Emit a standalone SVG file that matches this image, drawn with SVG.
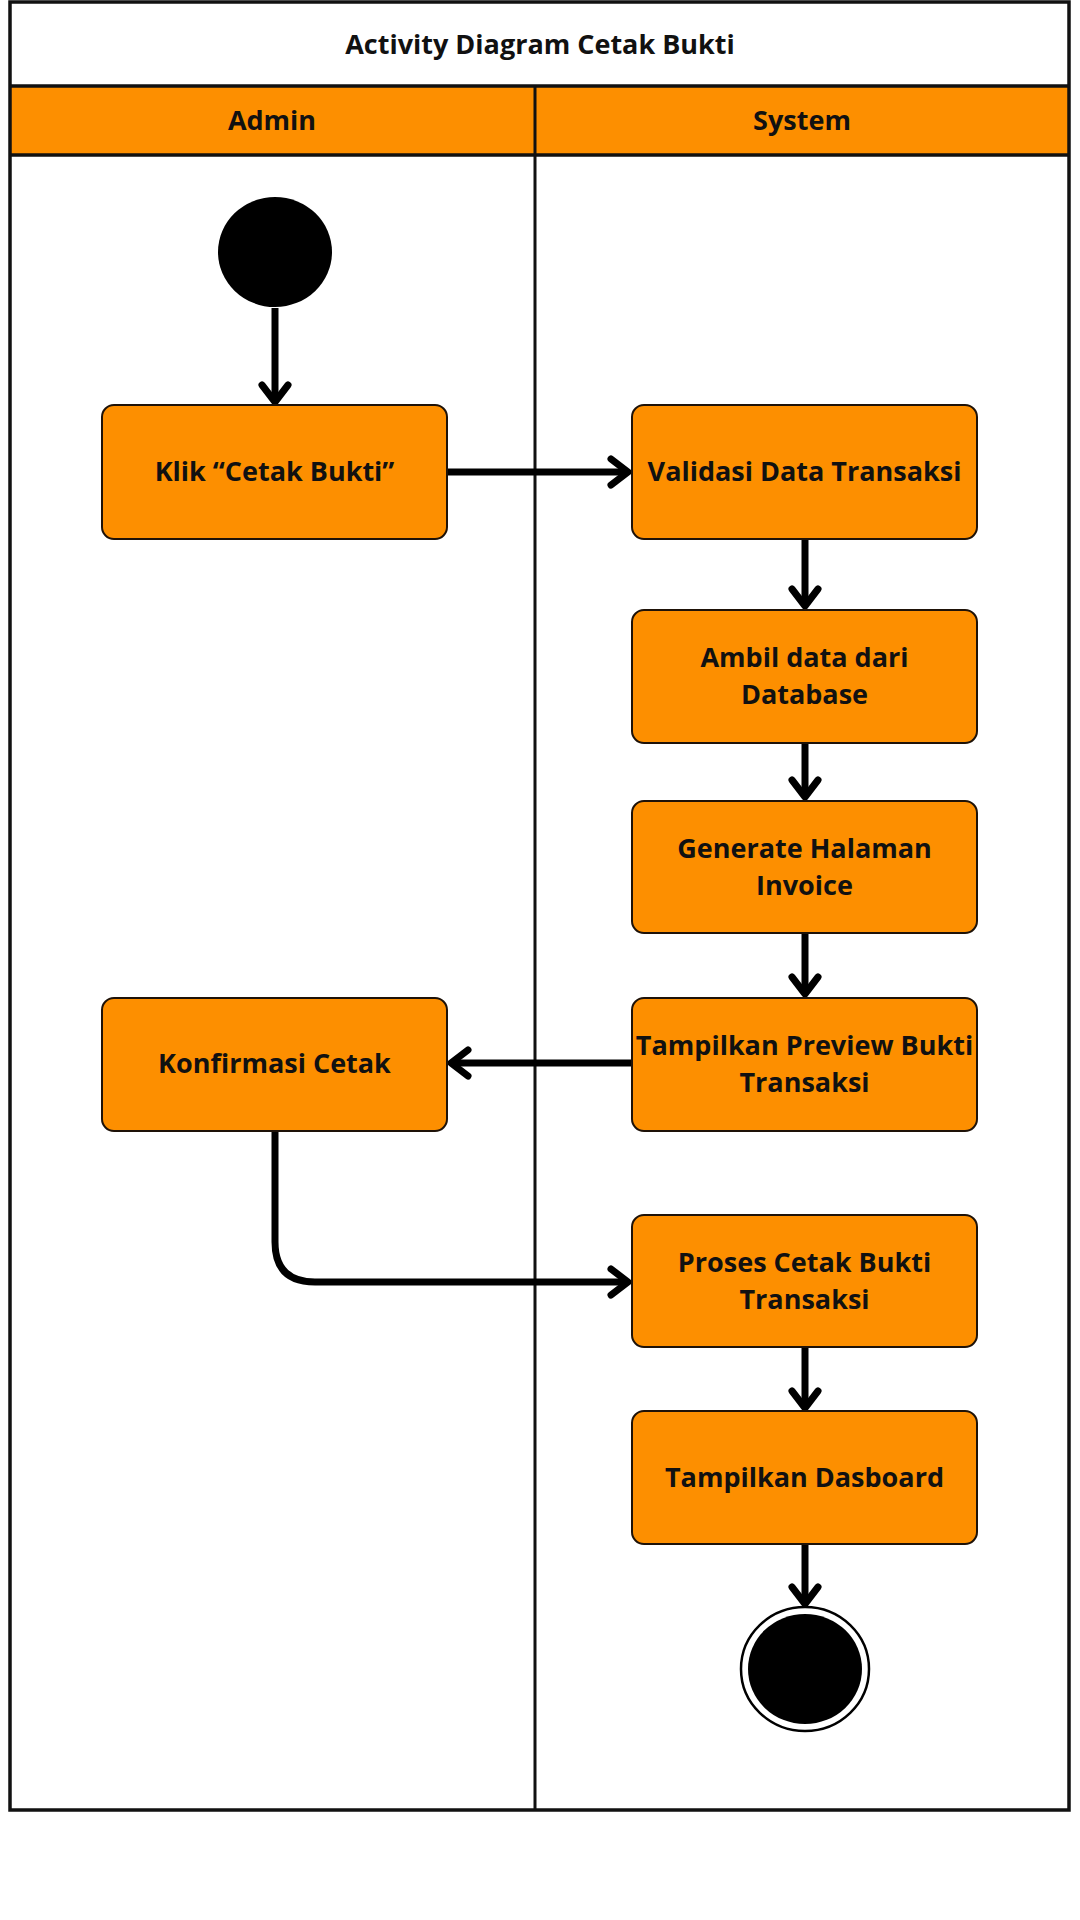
<svg xmlns="http://www.w3.org/2000/svg" width="1080" height="1920" viewBox="0 0 1080 1920">
<style>
.t{font-family:"Open Sans","Noto Sans","Liberation Sans",sans-serif;font-weight:700;fill:#111;text-anchor:middle}
.b{font-size:27px}
.box{fill:#FD8F00;stroke:#1e1208;stroke-width:2}
.frame{fill:none;stroke:#111;stroke-width:3.5}
.conn{fill:none;stroke:#000;stroke-width:7;stroke-linejoin:round}
</style>
<defs>
<marker id="arr" markerUnits="userSpaceOnUse" markerWidth="40" markerHeight="40" viewBox="-25 -20 40 40" refX="0" refY="0" orient="auto" overflow="visible">
<path d="M-17,-13 L0,0 L-17,13" fill="none" stroke="#000" stroke-width="7" stroke-linecap="round" stroke-linejoin="round"/>
</marker>
</defs>
<rect width="1080" height="1920" fill="#fff"/>
<g id="swimlanes">
<rect x="10" y="86" width="1059" height="69" fill="#FD8F00"/>
<rect class="frame" x="10" y="2" width="1059" height="1808"/>
<line x1="10" y1="86" x2="1069" y2="86" stroke="#111" stroke-width="3.5"/>
<line x1="10" y1="155" x2="1069" y2="155" stroke="#111" stroke-width="3.5"/>
<line x1="535" y1="86" x2="535" y2="1810" stroke="#111" stroke-width="3"/>
<text class="t" x="540" y="54" font-size="27">Activity Diagram Cetak Bukti</text>
<text class="t" x="272" y="130" font-size="27">Admin</text>
<text class="t" x="802" y="130" font-size="27">System</text>
</g>
<g id="connectors">
<path class="conn" d="M275,308 L275,402" marker-end="url(#arr)"/>
<path class="conn" d="M448,472 L628,472" marker-end="url(#arr)"/>
<path class="conn" d="M805,539 L805,606" marker-end="url(#arr)"/>
<path class="conn" d="M805,743 L805,797" marker-end="url(#arr)"/>
<path class="conn" d="M805,933 L805,994" marker-end="url(#arr)"/>
<path class="conn" d="M632,1063 L451,1063" marker-end="url(#arr)"/>
<path class="conn" d="M275,1131 L275,1242 Q275,1282 315,1282 L628,1282" marker-end="url(#arr)"/>
<path class="conn" d="M805,1347 L805,1408" marker-end="url(#arr)"/>
<path class="conn" d="M805,1544 L805,1604" marker-end="url(#arr)"/>
</g>
<g id="start">
<ellipse cx="275" cy="252" rx="57" ry="55" fill="#000"/>
</g>
<g id="klik">
<rect class="box" x="102" y="405" width="345" height="134" rx="12"/>
<text class="t b" x="274.5" y="481">Klik “Cetak Bukti”</text>
</g>
<g id="validasi">
<rect class="box" x="632" y="405" width="345" height="134" rx="12"/>
<text class="t b" x="804.5" y="481">Validasi Data Transaksi</text>
</g>
<g id="ambil">
<rect class="box" x="632" y="610" width="345" height="133" rx="12"/>
<text class="t b" x="804.5" y="667">Ambil data dari</text>
<text class="t b" x="804.5" y="704">Database</text>
</g>
<g id="generate">
<rect class="box" x="632" y="801" width="345" height="132" rx="12"/>
<text class="t b" x="804.5" y="858">Generate Halaman</text>
<text class="t b" x="804.5" y="895">Invoice</text>
</g>
<g id="preview">
<rect class="box" x="632" y="998" width="345" height="133" rx="12"/>
<text class="t b" x="804.5" y="1055">Tampilkan Preview Bukti</text>
<text class="t b" x="804.5" y="1092">Transaksi</text>
</g>
<g id="konfirmasi">
<rect class="box" x="102" y="998" width="345" height="133" rx="12"/>
<text class="t b" x="274.5" y="1073">Konfirmasi Cetak</text>
</g>
<g id="proses">
<rect class="box" x="632" y="1215" width="345" height="132" rx="12"/>
<text class="t b" x="804.5" y="1272">Proses Cetak Bukti</text>
<text class="t b" x="804.5" y="1309">Transaksi</text>
</g>
<g id="dasboard">
<rect class="box" x="632" y="1411" width="345" height="133" rx="12"/>
<text class="t b" x="804.5" y="1487">Tampilkan Dasboard</text>
</g>
<g id="end">
<ellipse cx="805" cy="1669" rx="64" ry="62" fill="#fff" stroke="#000" stroke-width="2.5"/>
<ellipse cx="805" cy="1669" rx="57" ry="55" fill="#000"/>
</g>
</svg>
